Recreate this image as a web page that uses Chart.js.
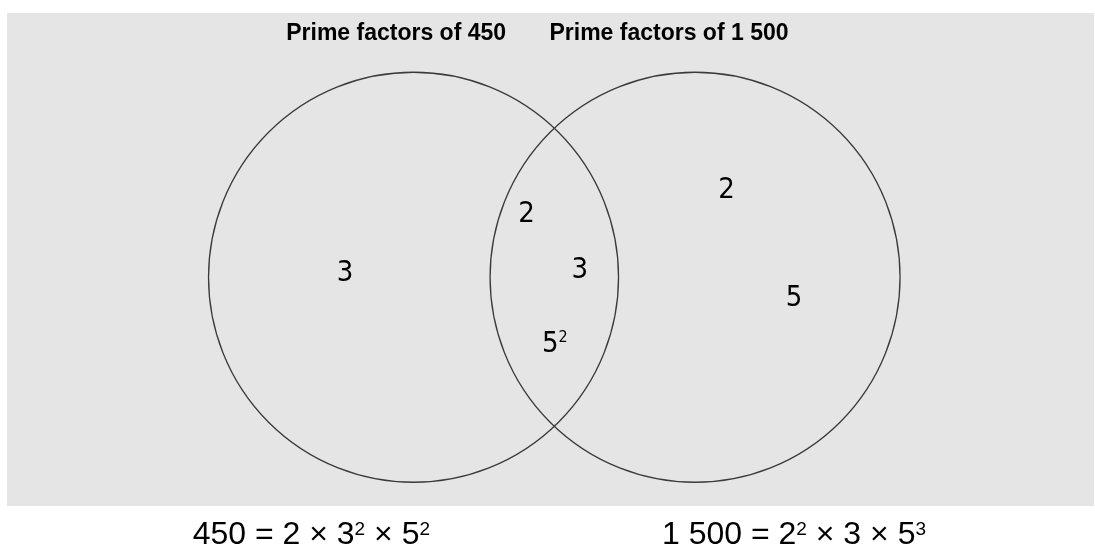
<!DOCTYPE html>
<html>
<head>
<meta charset="utf-8">
<script src="https://cdn.jsdelivr.net/npm/chart.js@4"></script>
<style>
  html, body { margin: 0; padding: 0; background: #fff; }
  canvas { display: block; }
</style>
</head>
<body>
<canvas id="venn" width="1095" height="545"></canvas>
<script>
// the two sets (one circle each)
const setTitles = ['Prime factors of 450', 'Prime factors of 1 500'];
const setX = [37.4, 63.3];
const setY = [46.4, 46.4];
const titleX = [35.8, 60.9];
const titleY = [94.5, 94.5];

// prime factors in each region, ^ marks a power
const factorText = ['3', '2', '3', '5^2', '2', '5'];
const factorX = [31.1, 47.8, 52.7, 50.4, 66.2, 72.4];
const factorY = [47.7, 59.6, 48.3, 33.3, 64.5, 42.6];

// factorisations written under the diagram
const formulaText = ['450 = 2 × 3^2 × 5^2', '1 500 = 2^2 × 3 × 5^3'];
const formulaX = [28.0, 72.4];
const formulaY = [-7.7, -7.7];

const circleRadius = 205;
const narrowFont = '"Liberation Sans Narrow", "DejaVu Sans Condensed", sans-serif';
const plainFont = '"Liberation Sans", Arial, sans-serif';

// "3^2 × 5" -> pieces with superscript flags
function splitPowers(str) {
    const parts = [];
    str.split('^').forEach(function(chunk, i) {
        if (i === 0) {
            if (chunk) parts.push({ t: chunk });
            return;
        }
        parts.push({ t: chunk[0], sup: true });
        if (chunk.length > 1) parts.push({ t: chunk.slice(1) });
    });
    return parts;
}

function drawPowers(ctx, str, cx, baseline, size, supSize, raise, family, weight) {
    const parts = splitPowers(str);
    const font = s => `${weight || 'normal'} ${s}px ${family}`;
    let total = 0;
    parts.forEach(p => {
        ctx.font = font(p.sup ? supSize : size);
        p.w = ctx.measureText(p.t).width;
        total += p.w;
    });
    let x = cx - total / 2;
    ctx.textAlign = 'left';
    ctx.textBaseline = 'alphabetic';
    parts.forEach(p => {
        ctx.font = font(p.sup ? supSize : size);
        ctx.fillText(p.t, x, p.sup ? baseline - raise : baseline);
        x += p.w;
    });
}

const vennText = {
    id: 'vennText',
    beforeDraw(chart) {
        const ctx = chart.ctx;
        const a = chart.chartArea;
        ctx.save();
        ctx.fillStyle = '#ffffff';
        ctx.fillRect(0, 0, chart.width, chart.height);
        ctx.fillStyle = '#e5e5e5';
        ctx.fillRect(a.left, a.top, a.right - a.left, a.bottom - a.top);
        ctx.restore();
    },
    afterDraw(chart) {
        const ctx = chart.ctx;
        const xs = chart.scales.x;
        const ys = chart.scales.y;
        ctx.save();
        ctx.fillStyle = '#000000';

        setTitles.forEach((t, i) => {
            drawPowers(ctx, t, xs.getPixelForValue(titleX[i]), ys.getPixelForValue(titleY[i]),
                23, 13, 8, plainFont, 'bold');
        });

        const pts = chart.getDatasetMeta(1).data;
        pts.forEach((pt, i) => {
            drawPowers(ctx, factorText[i], pt.x, pt.y + 10, 29, 16, 10, narrowFont);
        });

        formulaText.forEach((t, i) => {
            drawPowers(ctx, t, xs.getPixelForValue(formulaX[i]), ys.getPixelForValue(formulaY[i]),
                32, 19, 9, plainFont);
        });
        ctx.restore();
    }
};

new Chart(document.getElementById('venn'), {
    type: 'bubble',
    data: {
        datasets: [{
            label: 'Sets',
            data: setX.map((x, i) => ({ x: x, y: setY[i], r: circleRadius })),
            backgroundColor: 'rgba(0, 0, 0, 0)',
            borderColor: '#3a3a3a',
            borderWidth: 1.3,
            clip: false
        }, {
            type: 'scatter',
            label: 'Factors',
            data: factorX.map((x, i) => ({ x: x, y: factorY[i] })),
            pointRadius: 0
        }]
    },
    options: {
        responsive: false,
        animation: false,
        devicePixelRatio: 1,
        events: [],
        layout: {
            autoPadding: false,
            padding: { left: 7, top: 13, right: 1, bottom: 39 }
        },
        plugins: {
            legend: { display: false },
            tooltip: { enabled: false }
        },
        scales: {
            x: { type: 'linear', min: 0, max: 100, display: false },
            y: { type: 'linear', min: 0, max: 100, display: false }
        }
    },
    plugins: [vennText]
});
</script>
</body>
</html>
